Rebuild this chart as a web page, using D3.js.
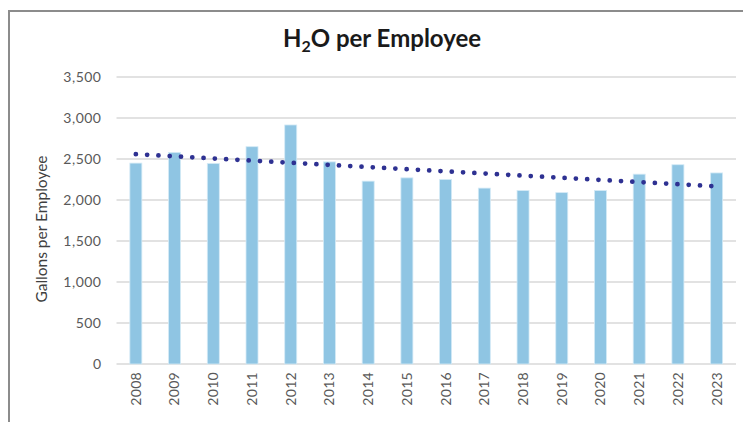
<!DOCTYPE html>
<html>
<head>
<meta charset="utf-8">
<script src="https://cdn.jsdelivr.net/npm/d3@7"></script>
<style>
  body { margin: 0; background: #fff; }
  svg { display: block; }
</style>
</head>
<body>
<svg id="plotSvg"></svg>
<script>
var years = ["2008", "2009", "2010", "2011", "2012", "2013", "2014", "2015",
  "2016", "2017", "2018", "2019", "2020", "2021", "2022", "2023"];
var gallons = [2450, 2580, 2445, 2650, 2915, 2465, 2230, 2270,
  2250, 2145, 2115, 2090, 2115, 2315, 2430, 2330];
var yTicks = [0, 500, 1000, 1500, 2000, 2500, 3000, 3500];

var width = 743,
  height = 422;
var svg = d3.select("#plotSvg")
  .attr("width", width)
  .attr("height", height);

var margin = { top: 77, right: 7, bottom: 58, left: 116.5 };
var w = width - margin.left - margin.right,
  h = height - margin.top - margin.bottom;

// outer frame (only top and left edges visible)
svg.append("path")
  .attr("d", "M9,422 V11 H743")
  .attr("fill", "none")
  .attr("stroke", "#8c8c8c")
  .attr("stroke-width", 2);

// title with subscript
var title = svg.append("text")
  .attr("x", 382)
  .attr("y", 47)
  .attr("text-anchor", "middle")
  .attr("font-family", "Lato, sans-serif")
  .attr("font-weight", "bold")
  .attr("font-size", 24)
  .attr("fill", "#1a1a1a");
title.append("tspan").text("H");
title.append("tspan").attr("font-size", 16).attr("dy", 5).text("2");
title.append("tspan").attr("dy", -5).text("O per Employee");

var g = svg.append("g").attr("transform", "translate(" + margin.left + "," + margin.top + ")");

var x = d3.scaleBand()
  .domain(years)
  .range([0, w])
  .paddingInner(0.69)
  .paddingOuter(0.345);

var y = d3.scaleLinear()
  .domain([0, 3500])
  .range([h, 0]);

// gridlines
g.selectAll("line.grid")
  .data(yTicks)
  .enter().append("line")
  .attr("class", "grid")
  .attr("x1", 0)
  .attr("x2", w)
  .attr("y1", function(d) { return y(d); })
  .attr("y2", function(d) { return y(d); })
  .attr("stroke", "#d9d9d9")
  .attr("stroke-width", 1.5);

// y axis labels
var yAxis = d3.axisLeft(y)
  .tickValues(yTicks)
  .tickSize(0)
  .tickPadding(15)
  .tickFormat(d3.format(","));
g.append("g")
  .call(yAxis)
  .call(function(a) { a.select(".domain").remove(); })
  .selectAll("text")
  .attr("font-family", "Lato, sans-serif")
  .attr("font-size", 14)
  .attr("letter-spacing", 0.5)
  .attr("fill", "#595959");

// bars
g.selectAll("rect.bar")
  .data(gallons)
  .enter().append("rect")
  .attr("class", "bar")
  .attr("x", function(d, i) { return x(years[i]); })
  .attr("width", x.bandwidth())
  .attr("y", function(d) { return y(d); })
  .attr("height", function(d) { return h - y(d); })
  .attr("fill", "#8fc5e3")
  .attr("stroke", "#d4eaf6")
  .attr("stroke-width", 0.8);

// x axis labels
var xAxis = d3.axisBottom(x).tickSize(0).tickPadding(0);
g.append("g")
  .attr("transform", "translate(0," + h + ")")
  .call(xAxis)
  .call(function(a) { a.select(".domain").remove(); })
  .selectAll("text")
  .attr("font-family", "Lato, sans-serif")
  .attr("font-size", 14)
  .attr("letter-spacing", 0.3)
  .attr("fill", "#595959")
  .attr("text-anchor", "end")
  .attr("dy", "0.35em")
  .attr("transform", "translate(0,8) rotate(-90)");

// linear trendline
var n = gallons.length;
var mx = d3.mean(d3.range(n));
var my = d3.mean(gallons);
var sxy = d3.sum(gallons, function(v, i) { return (i - mx) * (v - my); });
var sxx = d3.sum(d3.range(n), function(i) { return (i - mx) * (i - mx); });
var slope = sxy / sxx,
  intercept = my - slope * mx;
var trend = [0, n - 1].map(function(i) { return [i, intercept + slope * i]; });

var line = d3.line()
  .x(function(d) { return x(years[d[0]]) + x.bandwidth() / 2; })
  .y(function(d) { return y(d[1]); });

g.append("path")
  .datum(trend)
  .attr("d", line)
  .attr("fill", "none")
  .attr("stroke", "#2e3192")
  .attr("stroke-width", 4.8)
  .attr("stroke-linecap", "round")
  .attr("stroke-dasharray", "0 11.3");

// y axis title
svg.append("text")
  .attr("transform", "translate(47,229) rotate(-90)")
  .attr("text-anchor", "middle")
  .attr("font-family", "Lato, sans-serif")
  .attr("font-size", 15.5)
  .attr("fill", "#404040")
  .text("Gallons per Employee");
</script>
</body>
</html>
